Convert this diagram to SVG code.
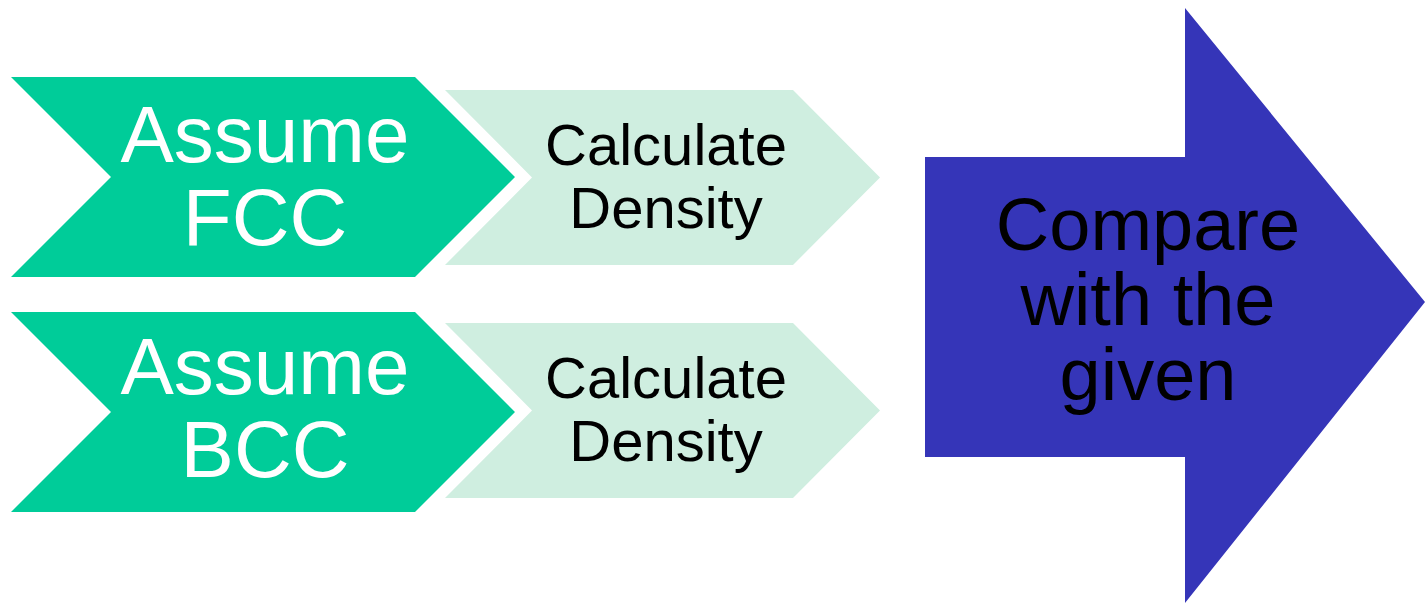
<svg xmlns="http://www.w3.org/2000/svg" width="1425" height="603" viewBox="0 0 1425 603">
  <style>
    .dark { fill: #00CC99; }
    .light { fill: #CFEEE0; }
    .big { fill: #3535B8; }
    text { font-family: "Liberation Sans", Arial, sans-serif; text-anchor: middle; }
    .tw { fill: #FFFFFF; font-size: 80px; }
    .tb { fill: #000000; font-size: 58px; }
    .tc { fill: #000000; font-size: 74px; }
  </style>
  <rect width="1425" height="603" fill="#FFFFFF"/>
  <g id="connectors"></g>
  <g id="calc-fcc">
    <polygon class="light" points="445,90 793,90 880,177.5 793,265 445,265 532,177.5"/>
    <text class="tb" x="666" y="165">Calculate</text>
    <text class="tb" x="666" y="228">Density</text>
  </g>
  <g id="assume-fcc">
    <polygon class="dark" points="11,77 415,77 515,177 415,277 11,277 111,177"/>
    <text class="tw" x="265" y="162">Assume</text>
    <text class="tw" x="265" y="245">FCC</text>
  </g>
  <g id="calc-bcc">
    <polygon class="light" points="445,323 793,323 880,410.5 793,498 445,498 532,410.5"/>
    <text class="tb" x="666" y="398">Calculate</text>
    <text class="tb" x="666" y="461">Density</text>
  </g>
  <g id="assume-bcc">
    <polygon class="dark" points="11,312 415,312 515,412 415,512 11,512 111,412"/>
    <text class="tw" x="265" y="394">Assume</text>
    <text class="tw" x="265" y="477">BCC</text>
  </g>
  <g id="compare">
    <polygon class="big" points="925,157 1185,157 1185,8 1425,302 1185,603 1185,457 925,457"/>
    <text class="tc" x="1148" y="250">Compare</text>
    <text class="tc" x="1148" y="325">with the</text>
    <text class="tc" x="1148" y="400">given</text>
  </g>
</svg>
